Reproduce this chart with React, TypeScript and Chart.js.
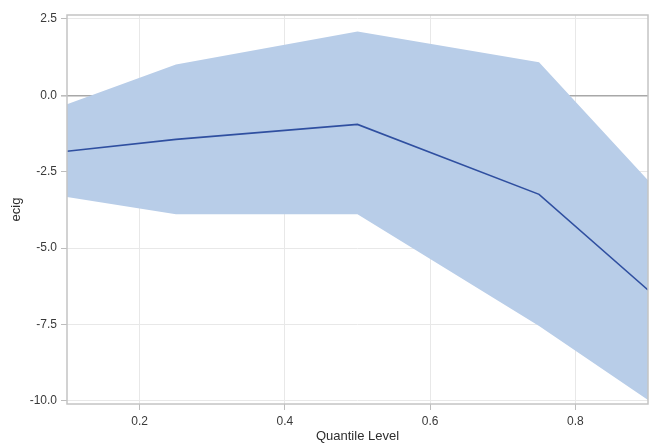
import React, { useEffect, useRef } from "react";
import { Chart, registerables } from "chart.js";

Chart.register(...registerables);

const quantiles = [0.1, 0.25, 0.5, 0.75, 0.9];
const estimate = [-1.83, -1.44, -0.95, -3.24, -6.37];
const upperCL = [-0.29, 1.01, 2.09, 1.08, -2.78];
const lowerCL = [-3.33, -3.89, -3.89, -7.55, -9.97];
const xTicks = [0.2, 0.4, 0.6, 0.8];
const yTicks = [-10, -7.5, -5, -2.5, 0, 2.5];

const FONT = "'Liberation Sans', Arial, sans-serif";

const framePlugin = {
  id: "frame",
  afterDraw(chart: any) {
    const { ctx, chartArea } = chart;
    ctx.save();
    ctx.strokeStyle = "#c4c4c4";
    ctx.lineWidth = 1.5;
    ctx.strokeRect(chartArea.left, chartArea.top, chartArea.right - chartArea.left, chartArea.bottom - chartArea.top);
    ctx.restore();
  },
};

export default function App() {
  const ref = useRef<HTMLCanvasElement | null>(null);
  useEffect(() => {
    if (!ref.current) return;
    const pts = (ys: number[]) => quantiles.map((x, i) => ({ x, y: ys[i] }));
    const chart = new Chart(ref.current, {
      type: "line",
      data: {
        datasets: [
          {
            label: "Estimate",
            data: pts(estimate),
            borderColor: "#2f4fa0",
            borderWidth: 1.6,
            pointRadius: 0,
            fill: false,
            tension: 0,
          },
          {
            label: "Upper",
            data: pts(upperCL),
            borderWidth: 0,
            borderColor: "rgba(0,0,0,0)",
            backgroundColor: "#b8cde8",
            pointRadius: 0,
            fill: "+1",
            tension: 0,
          },
          {
            label: "Lower",
            data: pts(lowerCL),
            borderWidth: 0,
            borderColor: "rgba(0,0,0,0)",
            pointRadius: 0,
            fill: false,
            tension: 0,
          },
        ],
      },
      options: {
        animation: false,
        responsive: false,
        maintainAspectRatio: false,
        layout: { padding: { top: 15, right: 1, left: 0, bottom: 0 } },
        plugins: { legend: { display: false }, tooltip: { enabled: false } },
        scales: {
          x: {
            type: "linear",
            min: 0.1,
            max: 0.9,
            afterBuildTicks: (s: any) => {
              s.ticks = xTicks.map((v) => ({ value: v }));
            },
            afterFit: (s: any) => {
              s.height = 40;
            },
            ticks: {
              callback: (v: any) => Number(v).toFixed(1),
              font: { family: FONT, size: 12 },
              color: "#3a3a3a",
              padding: 4,
              maxRotation: 0,
            },
            grid: { color: "#e8e8e8", tickLength: 6, tickColor: "#bdbdbd", lineWidth: 1 },
            border: { display: false },
            title: {
              display: true,
              text: "Quantile Level",
              font: { family: FONT, size: 13 },
              color: "#2e2e2e",
              padding: { top: 0, bottom: 0 },
            },
          },
          y: {
            type: "linear",
            min: -10.1,
            max: 2.63,
            afterBuildTicks: (s: any) => {
              s.ticks = yTicks.map((v) => ({ value: v }));
            },
            afterFit: (s: any) => {
              s.width = 67;
            },
            ticks: {
              callback: (v: any) => Number(v).toFixed(1),
              font: { family: FONT, size: 12 },
              color: "#3a3a3a",
              padding: 4,
            },
            grid: {
              color: (c: any) => (c.tick && c.tick.value === 0 ? "#a8a8a8" : "#e8e8e8"),
              lineWidth: (c: any) => (c.tick && c.tick.value === 0 ? 1.6 : 1),
              tickLength: 6,
              tickColor: "#bdbdbd",
            },
            border: { display: false },
            title: {
              display: true,
              text: "ecig",
              font: { family: FONT, size: 13 },
              color: "#2e2e2e",
              padding: { top: 9, bottom: 0 },
            },
          },
        },
      },
      plugins: [framePlugin],
    } as any);
    return () => chart.destroy();
  }, []);
  return (
    <div style={{ position: "absolute", left: 0, top: 0, width: 649, height: 444 }}>
      <canvas ref={ref} width={649} height={444} style={{ display: "block" }} />
    </div>
  );
}
